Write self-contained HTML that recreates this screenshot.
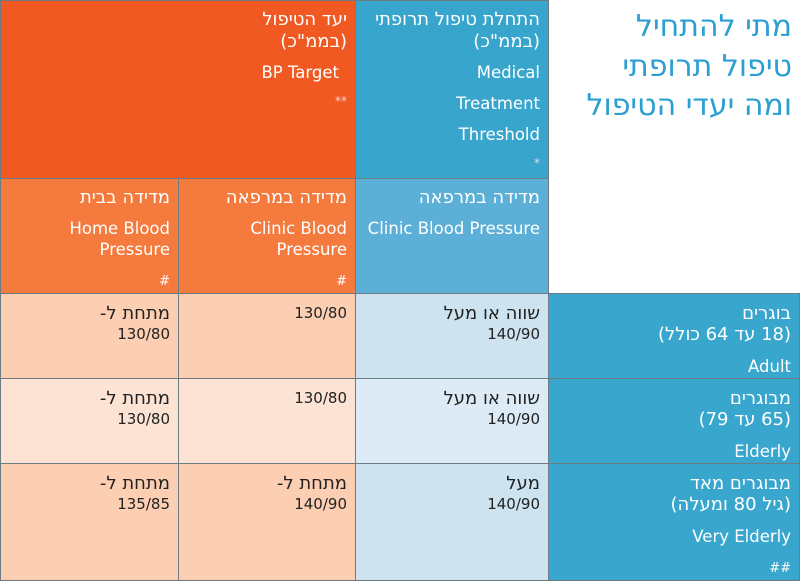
<!DOCTYPE html>
<html><head><meta charset="utf-8"><style>
body{margin:0;width:800px;height:582px;background:#fff;overflow:hidden;font-family:"DejaVu Sans","Liberation Sans",sans-serif;}
.c{position:absolute;box-sizing:border-box;direction:rtl;text-align:right;padding:9px 8px 0 8px;color:#fff;font-size:16.5px;border:1px solid #6d7b85;}
.c div{white-space:nowrap;}
.h{font-size:18px;}
.n{font-size:15px;}
.d{color:#222;}
.e{line-height:31px;margin-top:6px;}
</style></head><body>
<div class="c" style="left:0;top:0;width:356px;height:179px;background:#f05a22;padding-top:8px;">
 <div class="h" style="line-height:22px">יעד הטיפול</div><div class="h" style="line-height:22px">(בממ"כ)</div>
 <div style="line-height:31px;margin-top:4px;padding-right:8px">BP Target</div>
 <div style="line-height:26px;font-size:12px;color:#fcc">**</div>
</div>
<div class="c" style="left:355px;top:0;width:194px;height:179px;background:#38a5cc;padding-top:8px;">
 <div class="h" style="line-height:22px">התחלת טיפול תרופתי</div><div class="h" style="line-height:22px">(בממ"כ)</div>
 <div style="line-height:31px;margin-top:4px">Medical</div><div style="line-height:31px">Treatment</div><div style="line-height:31px">Threshold</div>
 <div style="line-height:26px;font-size:12px;color:#dde">*</div>
</div>
<div class="c" style="left:548px;top:0;width:252px;height:294px;background:#fff;border-top:none;border-right:none;color:#2b9fd1;font-size:30px;padding-top:7px;">
 <div style="line-height:40px">מתי להתחיל</div><div style="line-height:40px">טיפול תרופתי</div><div style="line-height:38px">ומה יעדי הטיפול</div>
</div>
<div class="c" style="left:0;top:178px;width:179px;height:116px;background:#f47a3d;padding-top:8px;">
 <div class="h" style="line-height:22px">מדידה בבית</div>
 <div style="line-height:21px;margin-top:9px">Home Blood</div><div style="line-height:21px">Pressure</div>
 <div style="line-height:20px;margin-top:12px;font-size:13px">#</div>
</div>
<div class="c" style="left:178px;top:178px;width:178px;height:116px;background:#f47a3d;padding-top:8px;">
 <div class="h" style="line-height:22px">מדידה במרפאה</div>
 <div style="line-height:21px;margin-top:9px">Clinic Blood</div><div style="line-height:21px">Pressure</div>
 <div style="line-height:20px;margin-top:12px;font-size:13px">#</div>
</div>
<div class="c" style="left:355px;top:178px;width:194px;height:116px;background:#5cafd6;padding-top:8px;">
 <div class="h" style="line-height:22px">מדידה במרפאה</div>
 <div style="line-height:21px;margin-top:9px">Clinic Blood Pressure</div>
</div>

<div class="c d" style="left:0;top:293px;width:179px;height:86px;background:#fccfb3;"><div class="h" style="line-height:21px">מתחת ל-</div><div class="n" style="line-height:21px">130/80</div></div>
<div class="c d" style="left:178px;top:293px;width:178px;height:86px;background:#fccfb3;"><div class="n" style="line-height:21px">130/80</div></div>
<div class="c d" style="left:355px;top:293px;width:194px;height:86px;background:#cde3f0;"><div class="h" style="line-height:21px">שווה או מעל</div><div class="n" style="line-height:21px">140/90</div></div>
<div class="c" style="left:548px;top:293px;width:252px;height:86px;background:#39a6cd;"><div class="h" style="line-height:21px">בוגרים</div><div class="h" style="line-height:21px">(18 עד 64 כולל)</div><div class="e">Adult</div></div>

<div class="c d" style="left:0;top:378px;width:179px;height:86px;background:#fde3d4;"><div class="h" style="line-height:21px">מתחת ל-</div><div class="n" style="line-height:21px">130/80</div></div>
<div class="c d" style="left:178px;top:378px;width:178px;height:86px;background:#fde3d4;"><div class="n" style="line-height:21px">130/80</div></div>
<div class="c d" style="left:355px;top:378px;width:194px;height:86px;background:#dcebf5;"><div class="h" style="line-height:21px">שווה או מעל</div><div class="n" style="line-height:21px">140/90</div></div>
<div class="c" style="left:548px;top:378px;width:252px;height:86px;background:#39a6cd;"><div class="h" style="line-height:21px">מבוגרים</div><div class="h" style="line-height:21px">(65 עד 79)</div><div class="e">Elderly</div></div>

<div class="c d" style="left:0;top:463px;width:179px;height:118px;background:#fccfb3;"><div class="h" style="line-height:21px">מתחת ל-</div><div class="n" style="line-height:21px">135/85</div></div>
<div class="c d" style="left:178px;top:463px;width:178px;height:118px;background:#fccfb3;"><div class="h" style="line-height:21px">מתחת ל-</div><div class="n" style="line-height:21px">140/90</div></div>
<div class="c d" style="left:355px;top:463px;width:194px;height:118px;background:#cde3f0;"><div class="h" style="line-height:21px">מעל</div><div class="n" style="line-height:21px">140/90</div></div>
<div class="c" style="left:548px;top:463px;width:252px;height:118px;background:#39a6cd;"><div class="h" style="line-height:21px">מבוגרים מאד</div><div class="h" style="line-height:21px">(גיל 80 ומעלה)</div><div class="e">Very Elderly</div><div style="line-height:26px;margin-top:4px;font-size:13px">##</div></div>
</body></html>
